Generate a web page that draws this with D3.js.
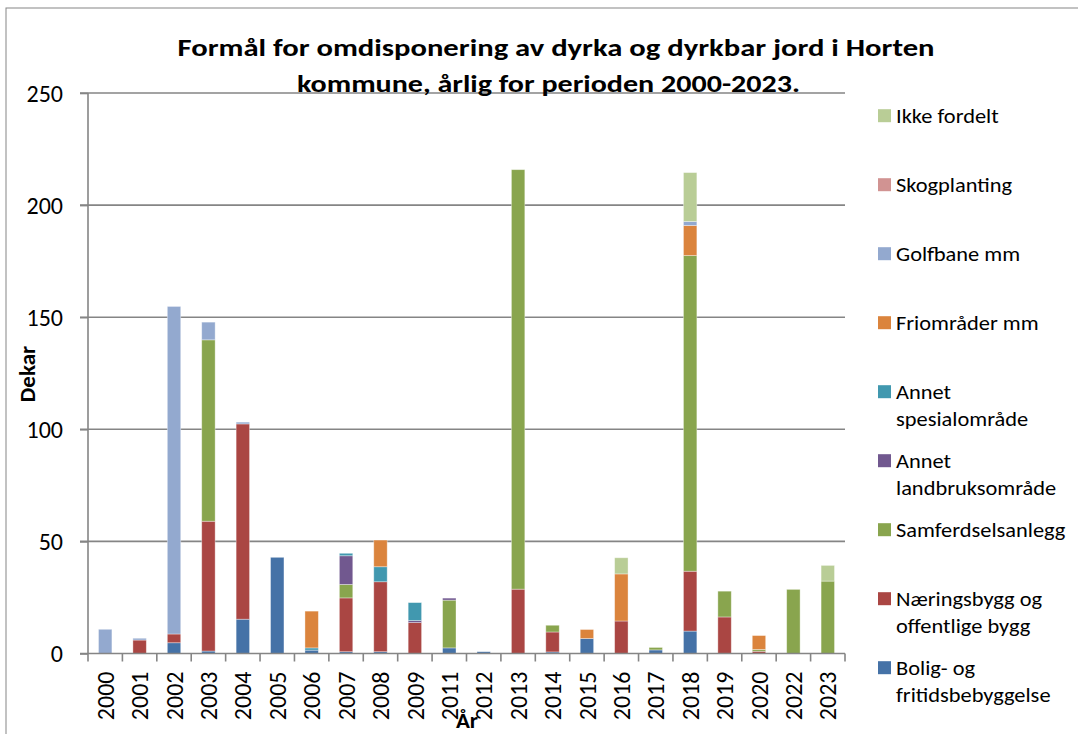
<!DOCTYPE html>
<html>
<head>
<meta charset="utf-8">
<script src="https://cdn.jsdelivr.net/npm/d3@7"></script>
<style>
  body { margin: 0; background: #fff; }
  text { font-family: Carlito, Calibri, Lato, sans-serif; fill: #000; }
</style>
</head>
<body>
<svg id="chart" width="1078" height="734"></svg>
<script>
// Years (2010 and 2021 are missing in the source)
var years = ['2000','2001','2002','2003','2004','2005','2006','2007','2008','2009','2011',
             '2012','2013','2014','2015','2016','2017','2018','2019','2020','2022','2023'];

// Values in dekar, one array per purpose (same order as years)
var bolig      = [0, 0, 4.8, 1.1, 15.3, 42.9, 1.5, 0.8, 0.8, 0, 2.5, 0.8, 0, 0.7, 6.7, 0, 1.6, 10, 0, 0, 0, 0];
var naering    = [0, 6, 3.9, 57.9, 87.1, 0, 0, 24, 31.2, 13.8, 0, 0, 28.7, 8.9, 0, 14.5, 0, 26.7, 16.3, 1.0, 0, 0];
var samferdsel = [0, 0, 0, 80.9, 0, 0, 0, 6, 0, 0, 21.3, 0, 187.1, 3, 0, 0, 1.1, 140.8, 11.5, 0.8, 28.6, 32.3];
var landbruk   = [0, 0, 0, 0, 0, 0, 0, 12.8, 0, 0.9, 0.9, 0, 0, 0, 0, 0, 0, 0, 0, 0, 0, 0];
var spesial    = [0, 0, 0, 0, 0, 0, 1.0, 1.1, 6.7, 8.0, 0, 0, 0, 0, 0, 0, 0, 0, 0, 0, 0, 0];
var friomrader = [0, 0, 0, 0, 0, 0, 16.4, 0, 11.9, 0, 0, 0, 0, 0, 4.0, 21.0, 0, 13.4, 0, 6.2, 0, 0];
var golfbane   = [10.8, 0.8, 146.1, 7.9, 0.8, 0, 0, 0, 0, 0, 0, 0, 0, 0, 0, 0, 0, 1.8, 0, 0, 0, 0];
var skog       = [0, 0, 0, 0, 0, 0, 0, 0, 0, 0, 0, 0, 0, 0, 0, 0, 0, 0, 0, 0, 0, 0];
var ikke       = [0, 0, 0, 0, 0, 0, 0, 0, 0, 0, 0, 0, 0, 0, 0, 7.2, 0, 21.8, 0, 0, 0, 7.0];

// Series, bottom of the stack first
var series = [
  {key:'bolig', name:['Bolig- og','fritidsbebyggelse'], color:'#4572A7', values:bolig},
  {key:'naering', name:['Næringsbygg og','offentlige bygg'], color:'#AA4643', values:naering},
  {key:'samferdsel', name:['Samferdselsanlegg'], color:'#89A54E', values:samferdsel},
  {key:'landbruk', name:['Annet','landbruksområde'], color:'#71588F', values:landbruk},
  {key:'spesial', name:['Annet','spesialområde'], color:'#4198AF', values:spesial},
  {key:'fri', name:['Friområder mm'], color:'#DB843D', values:friomrader},
  {key:'golf', name:['Golfbane mm'], color:'#93A9CF', values:golfbane},
  {key:'skog', name:['Skogplanting'], color:'#D19392', values:skog},
  {key:'ikke', name:['Ikke fordelt'], color:'#B9CD96', values:ikke}
];

var yTicks = [0, 50, 100, 150, 200, 250];

var svg = d3.select('#chart');
var grey = '#858585';

// widen a text element a bit (the original font is wider than the fallback)
var stretch = function(sel, factor) {
  sel.each(function() {
    var w = this.getComputedTextLength();
    d3.select(this).attr('textLength', w * factor).attr('lengthAdjust', 'spacingAndGlyphs');
  });
};

// outer frame of the chart area
svg.append('rect')
    .attr('x', 6).attr('y', 8)
    .attr('width', 1200).attr('height', 900)
    .attr('fill', 'none').attr('stroke', grey).attr('stroke-width', 1);

var plotLeft = 88, plotRight = 845, plotTop = 93, plotBottom = 653.5;

var x = d3.scaleBand().domain(years).range([plotLeft, plotRight]);
var y = d3.scaleLinear().domain([0, 250]).range([plotBottom, plotTop]);

// build table for the stack
var table = years.map(function(yr, i) {
  var row = {year: yr};
  series.forEach(function(s) { row[s.key] = s.values[i]; });
  return row;
});
var stacked = d3.stack().keys(series.map(function(s) { return s.key; }))(table);

// gridlines
svg.append('g').selectAll('line')
    .data(yTicks.filter(function(d) { return d > 0; }))
  .enter().append('line')
    .attr('x1', plotLeft - 8).attr('x2', plotRight)
    .attr('y1', function(d) { return y(d); })
    .attr('y2', function(d) { return y(d); })
    .attr('stroke', grey).attr('stroke-width', 1.6);

// bars
var barW = x.bandwidth() * 0.39;
svg.append('g').selectAll('g')
    .data(stacked)
  .enter().append('g')
    .attr('fill', function(d, i) { return series[i].color; })
  .selectAll('rect')
    .data(function(d) { return d.filter(function(p) { return p[1] - p[0] > 0; }); })
  .enter().append('rect')
    .attr('x', function(d) { return x(d.data.year) + (x.bandwidth() - barW) / 2; })
    .attr('width', barW)
    .attr('y', function(d) { return y(d[1]); })
    .attr('height', function(d) { return Math.max(0, y(d[0]) - y(d[1])); })
    .attr('stroke', 'rgba(255,255,255,0.45)')
    .attr('stroke-width', 0.8);

// y axis
var yAxis = svg.append('g')
    .attr('transform', 'translate(' + plotLeft + ',0)')
    .call(d3.axisLeft(y).tickValues(yTicks).tickSize(8).tickPadding(17));
yAxis.select('.domain').attr('stroke', grey).attr('stroke-width', 1.6)
    .attr('d', 'M0,' + plotBottom + 'V' + plotTop);
yAxis.selectAll('.tick line').attr('stroke', grey).attr('stroke-width', 1.6);
yAxis.selectAll('.tick text')
    .attr('font-size', 24)
    .style('font-family', 'Carlito, Calibri, Lato, sans-serif')
    .attr('fill', '#000')
    .attr('dy', '0.35em');

// x axis
var xAxis = svg.append('g')
    .attr('transform', 'translate(0,' + plotBottom + ')')
    .call(d3.axisBottom(x).tickSize(0));
xAxis.select('.domain').attr('stroke', grey).attr('stroke-width', 1.6)
    .attr('d', 'M' + (plotLeft - 8) + ',0H' + plotRight);
xAxis.selectAll('.tick text')
    .attr('font-size', 24)
    .style('font-family', 'Carlito, Calibri, Lato, sans-serif')
    .attr('fill', '#000')
    .attr('text-anchor', 'end')
    .attr('transform', 'rotate(-90)')
    .attr('x', -18).attr('y', 0).attr('dy', '0.36em');
// category separators
svg.append('g').selectAll('line')
    .data(years.concat(['end']))
  .enter().append('line')
    .attr('x1', function(d, i) { return plotLeft + i * x.bandwidth(); })
    .attr('x2', function(d, i) { return plotLeft + i * x.bandwidth(); })
    .attr('y1', plotBottom).attr('y2', plotBottom + 8)
    .attr('stroke', grey).attr('stroke-width', 1.6);

// axis titles
svg.append('text')
    .attr('x', 467).attr('y', 728)
    .attr('text-anchor', 'middle')
    .attr('font-size', 23).attr('font-weight', 'bold')
    .text('År');
svg.append('text')
    .attr('transform', 'translate(35,374) rotate(-90)')
    .attr('text-anchor', 'middle')
    .attr('font-size', 23).attr('font-weight', 'bold')
    .text('Dekar');

// title
svg.append('text')
    .attr('x', 556).attr('y', 56)
    .attr('text-anchor', 'middle')
    .attr('font-size', 25).attr('font-weight', 'bold')
    .attr('textLength', 757).attr('lengthAdjust', 'spacingAndGlyphs')
    .text('Formål for omdisponering av dyrka og dyrkbar jord i Horten');
svg.append('text')
    .attr('x', 548.5).attr('y', 91.5)
    .attr('text-anchor', 'middle')
    .attr('font-size', 25).attr('font-weight', 'bold')
    .attr('textLength', 503).attr('lengthAdjust', 'spacingAndGlyphs')
    .text('kommune, årlig for perioden 2000-2023.');

// legend (top entry is last series)
var legend = svg.append('g').selectAll('g')
    .data(series.slice().reverse())
  .enter().append('g')
    .attr('transform', function(d, i) { return 'translate(878,' + (115.7 + i * 69) + ')'; });
legend.append('rect')
    .attr('x', 0).attr('y', -6.5)
    .attr('width', 13).attr('height', 13)
    .attr('fill', function(d) { return d.color; });
legend.selectAll('text')
    .data(function(d) { return d.name; })
  .enter().append('text')
    .attr('x', 18)
    .attr('y', function(d, j) { return j * 27.5; })
    .attr('dy', '0.35em')
    .attr('font-size', 20)
    .text(function(d) { return d; });
stretch(legend.selectAll('text'), 1.12);
</script>
</body>
</html>
